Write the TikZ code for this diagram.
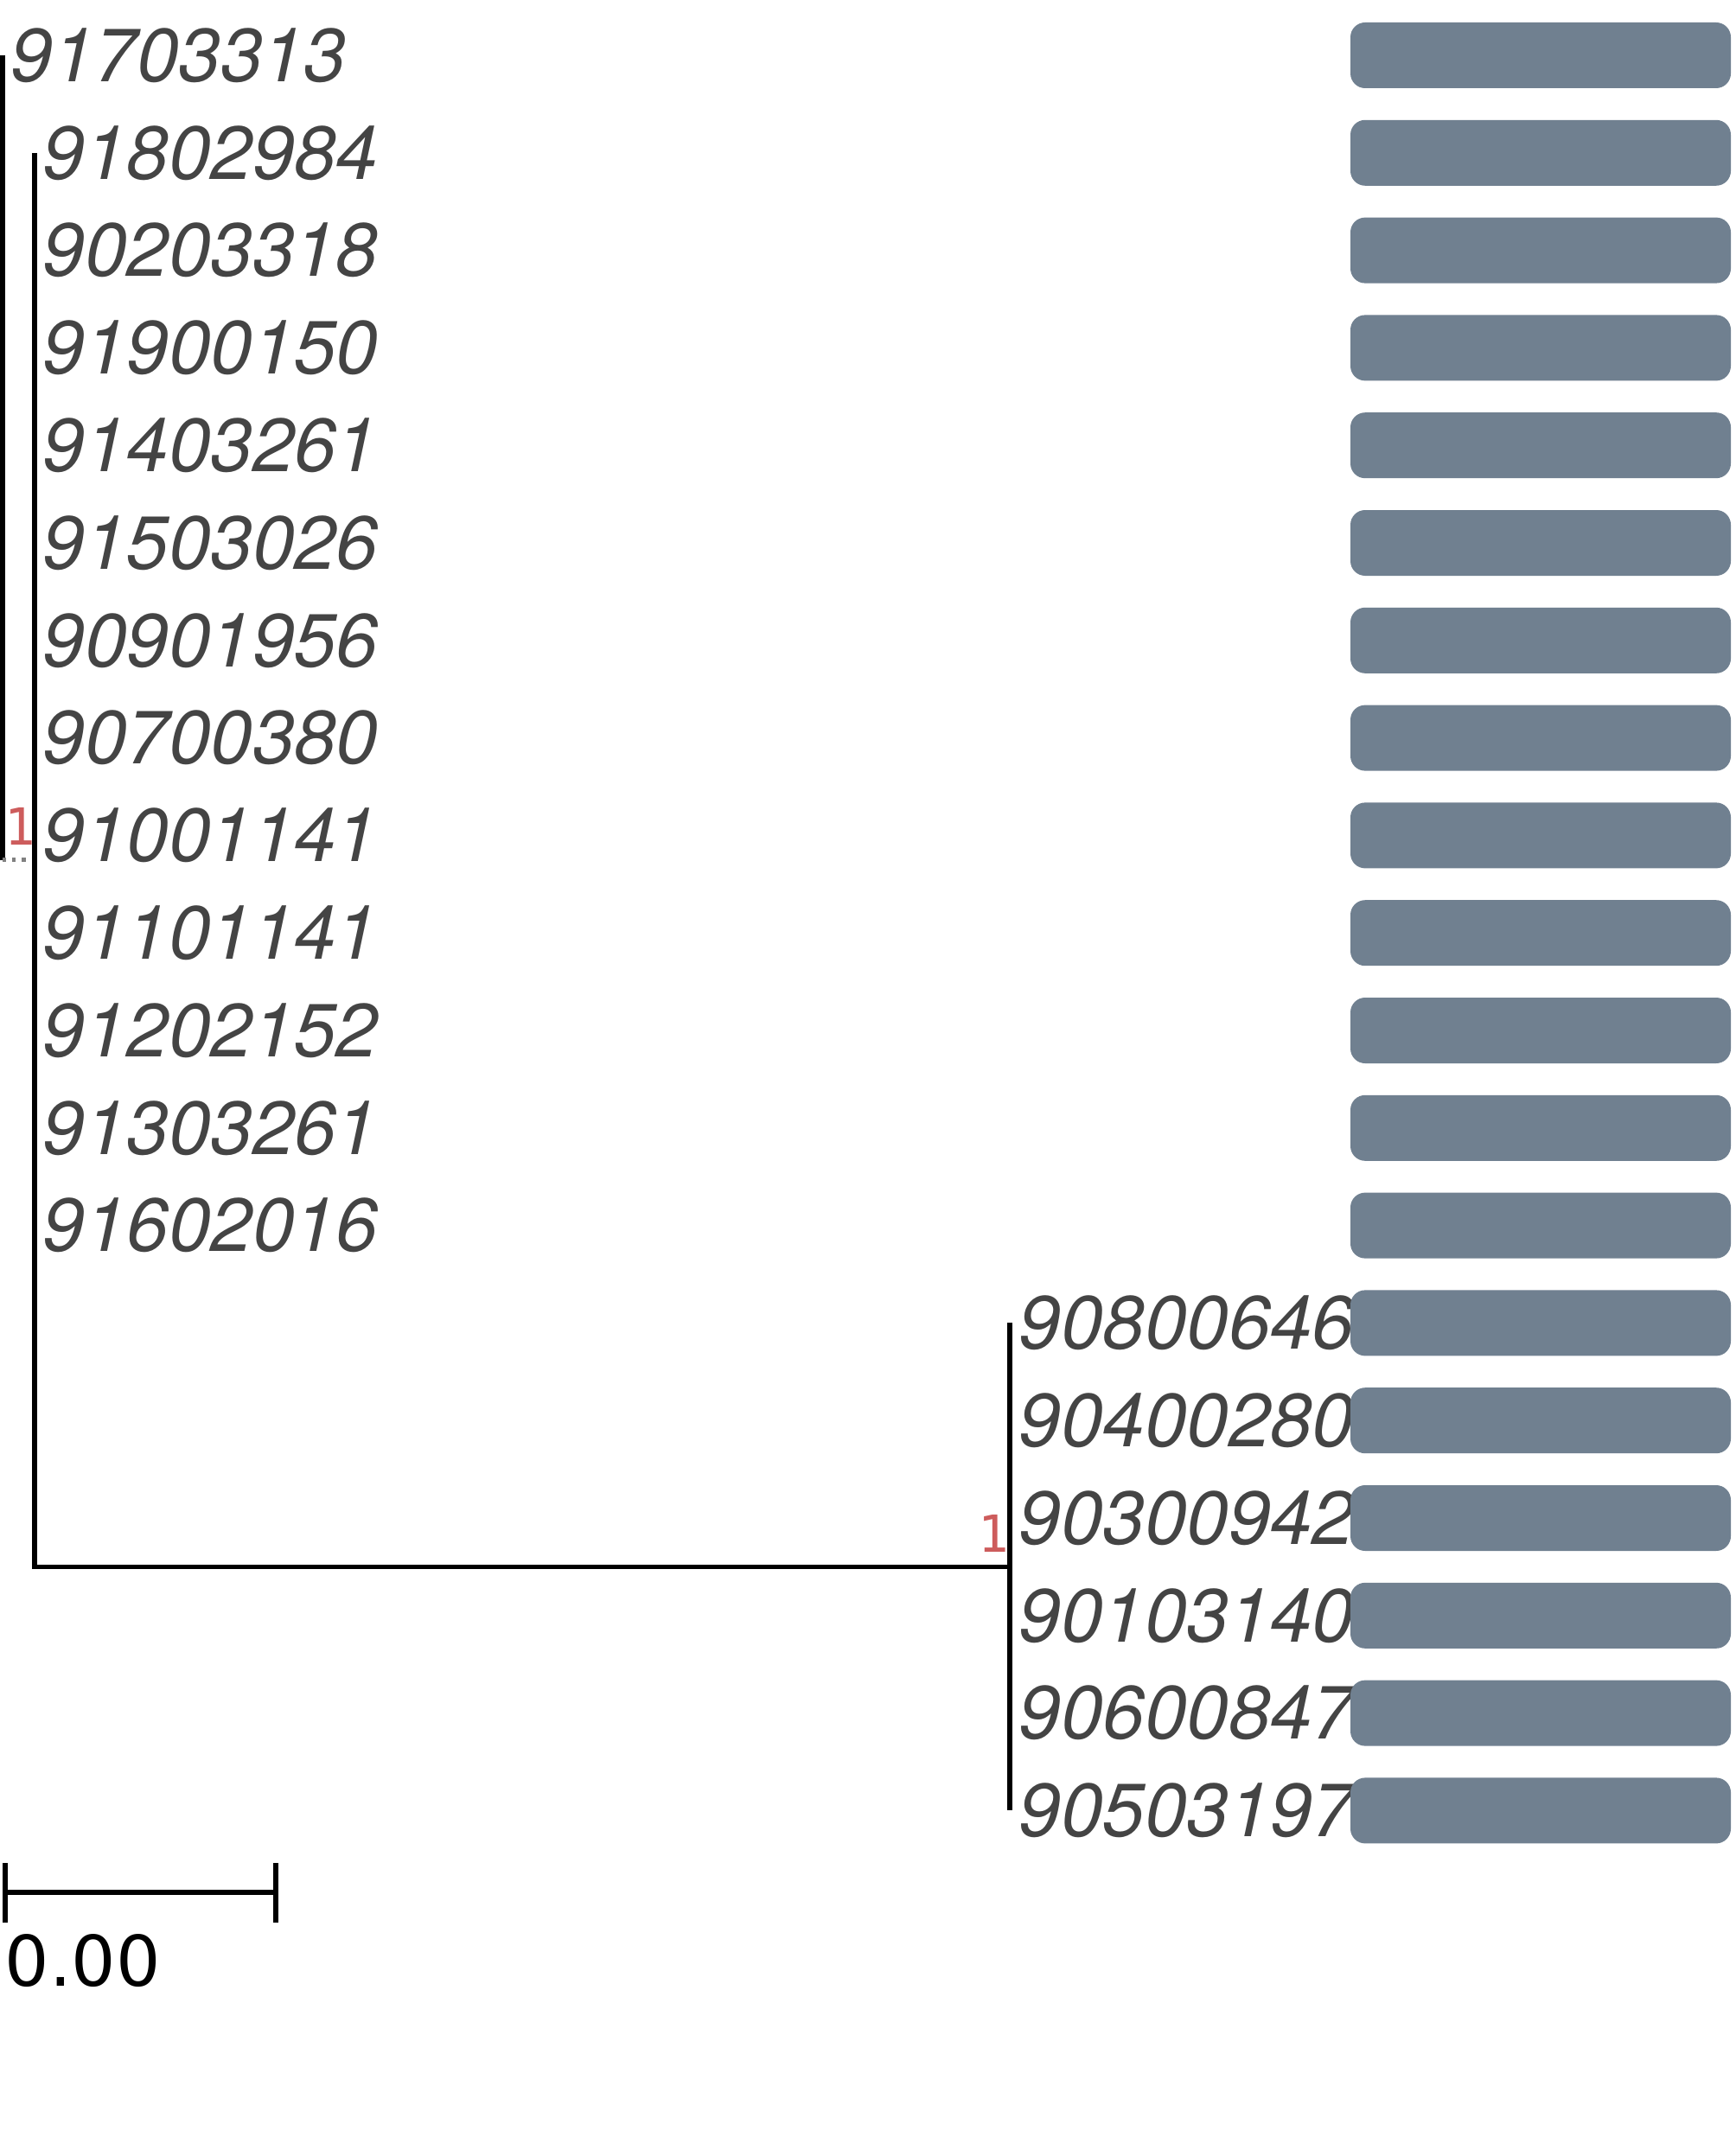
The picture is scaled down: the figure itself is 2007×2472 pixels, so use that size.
\documentclass[tikz,border=0pt]{standalone}
\usepackage{fontspec}
\setmainfont{TeX Gyre Heros}
\newfontfamily\suppfont{DejaVu Sans Mono}
\newfontfamily\scalebarfont{DejaVu Sans}
\usepackage{xcolor}
\usetikzlibrary{positioning}
\definecolor{tipgray}{RGB}{68,68,68}
\definecolor{barslate}{RGB}{112,128,144}
\definecolor{supportred}{RGB}{205,92,92}

\begin{document}
\begin{tikzpicture}[x=0.1mm, y=-0.1mm,
tiplab/.style={anchor=west, inner sep=0pt, text=tipgray, font=\fontsize{24.8}{29}\selectfont\itshape},
bar/.style={fill=barslate, rounded corners=1.7mm, minimum width=44mm, minimum height=7.6mm, inner sep=0pt},
support/.style={anchor=south east, inner sep=0pt, text=supportred, font=\suppfont\fontsize{16.8}{20}\selectfont},
branch/.style={line width=1.65pt, black},
stub/.style={line width=1.2pt, gray, dotted}
]
\useasboundingbox (0,0) rectangle (2007,2472);

% tip labels
\foreach \i/\x/\lab in {0/12/91703313, 1/49/91802984, 2/49/90203318, 3/49/91900150,
  4/49/91403261, 5/49/91503026, 6/49/90901956, 7/49/90700380, 8/49/91001141,
  9/49/91101141, 10/49/91202152, 11/49/91303261, 12/49/91602016,
  13/1178/90800646, 14/1178/90400280, 15/1178/90300942, 16/1178/90103140,
  17/1178/90600847, 18/1178/90503197}
  \node[tiplab] (tip\i) at (\x,{64+112.8*\i}) {\lab};

% bars
\foreach \i in {0,...,18}
  \node[bar] (bar\i) at (1782,{64+112.8*\i}) {};

% internal nodes
\coordinate (rootnode) at (3,994.6);
\coordinate (clade) at (40,994.6);
\coordinate (sub) at (1168,1812.4);

\draw[branch] (rootnode |- tip0.west) -- (rootnode);
\draw[stub] (rootnode) -- (clade);
\draw[branch] (clade |- tip1.west) -- (clade |- sub) -- (sub);
\draw[branch] (sub |- tip13.west) -- (sub |- tip18.west);

\node[support] (supp1) at ([shift={(2,-16)}]clade) {1};
\node[support] (supp2) at ([shift={(0,-16)}]sub) {1};

% scale bar
\coordinate (sbleft) at (6,2189);
\coordinate (sbright) at (319,2189);
\draw[branch] (sbleft) -- (sbright);
\draw[branch] ([shift={(0,-34)}]sbleft) -- ([shift={(0,35)}]sbleft);
\draw[branch] ([shift={(0,-34)}]sbright) -- ([shift={(0,35)}]sbright);
\node[anchor=north west, inner sep=0pt, font=\scalebarfont\fontsize{23}{27}\selectfont] (sblab) at (5,2237) {0.00};
\end{tikzpicture}
\end{document}
